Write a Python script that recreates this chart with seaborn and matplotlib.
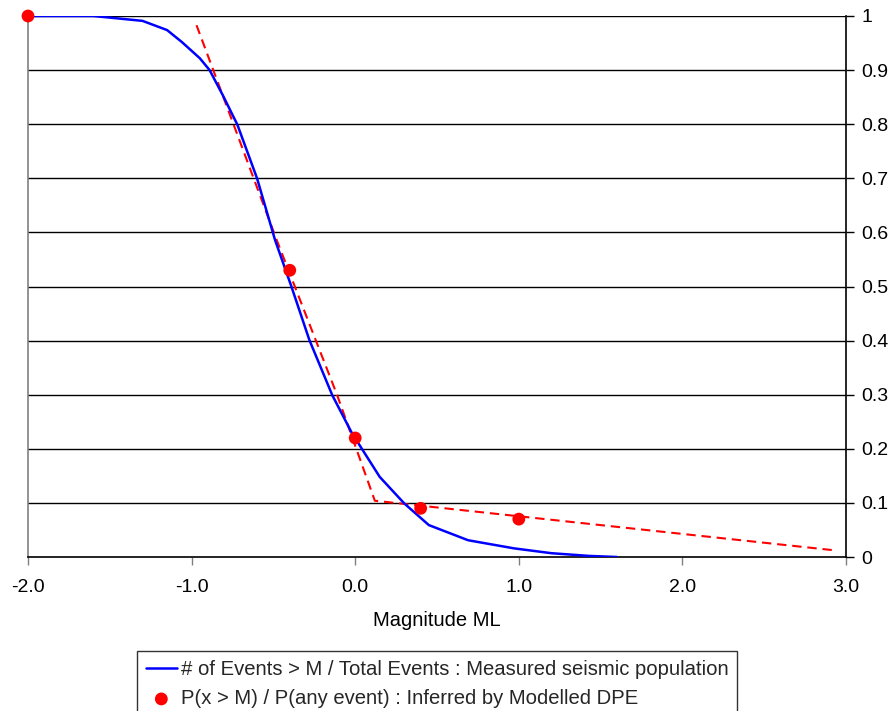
import numpy as np
import pandas as pd
import seaborn as sns
import matplotlib.pyplot as plt

# measured population curve (# events > M / total events)
mag_measured = [-2.0, -1.6, -1.3, -1.15, -1.06, -0.95, -0.89, -0.81, -0.72, -0.60, -0.49, -0.39,
                -0.28, -0.14, -0.02, 0.15, 0.30, 0.45, 0.69, 0.97, 1.20, 1.43, 1.60]
frac_measured = [1.0, 1.0, 0.991, 0.974, 0.952, 0.922, 0.900, 0.854, 0.799, 0.700, 0.586, 0.500,
                 0.401, 0.299, 0.229, 0.148, 0.099, 0.059, 0.031, 0.016, 0.007, 0.002, 0.0]

# modelled DPE points
mag_model = [-2.0, -0.4, 0.0, 0.4, 1.0]
prob_model = [1.0, 0.53, 0.22, 0.09, 0.07]

# dashed fit line
mag_fit = [-0.97, -0.48, -0.11, 0.12, 2.94]
prob_fit = [0.983, 0.586, 0.299, 0.104, 0.012]

x_ticks = [-2.0, -1.0, 0.0, 1.0, 2.0, 3.0]
y_ticks = [0, 0.1, 0.2, 0.3, 0.4, 0.5, 0.6, 0.7, 0.8, 0.9, 1]

label_measured = "# of Events > M / Total Events : Measured seismic population"
label_model = "P(x > M) / P(any event) : Inferred by Modelled DPE"

sns.set_theme(style="white")
plt.rcParams['font.family'] = ['Liberation Sans', 'DejaVu Sans']

df_measured = pd.DataFrame({"mag": mag_measured, "frac": frac_measured})
df_model = pd.DataFrame({"mag": mag_model, "prob": prob_model})
df_fit = pd.DataFrame({"mag": mag_fit, "prob": prob_fit})

fig = plt.figure(figsize=(8.95, 7.11), dpi=100)
ax = fig.add_axes([28 / 895, 1 - 557 / 711, (846 - 28) / 895, (557 - 16) / 711])

for y in y_ticks[1:]:
    ax.axhline(y, color='black', lw=1.0, zorder=1)

sns.lineplot(data=df_fit, x="mag", y="prob", ax=ax, color='red', lw=1.5,
             linestyle=(0, (4.5, 2.8)), zorder=2, legend=False)
sns.lineplot(data=df_measured, x="mag", y="frac", ax=ax, color='#0000ff', lw=1.8,
             zorder=3, label=label_measured)
sns.scatterplot(data=df_model, x="mag", y="prob", ax=ax, color='red', s=85,
                edgecolor='none', zorder=4, clip_on=False, label=label_model)

ax.set_xlim(-2.0, 3.0)
ax.set_ylim(0, 1)
ax.set_xticks(x_ticks)
ax.set_xticklabels([f"{v:.1f}" for v in x_ticks])
ax.set_yticks(y_ticks)
ax.set_yticklabels([f"{v:g}" for v in y_ticks])
ax.yaxis.tick_right()
ax.set_ylabel("")
ax.set_xlabel("Magnitude ML", fontsize=14.5, labelpad=11, color='black')

ax.tick_params(axis='x', direction='out', length=6, width=1, color='#808080',
               labelsize=14, pad=10, labelcolor='black', bottom=True)
ax.tick_params(axis='y', direction='out', length=6, width=1, color='black',
               labelsize=14, pad=5, labelcolor='black', right=True, left=False)

for side in ['left', 'right', 'bottom']:
    ax.spines[side].set_visible(True)
    ax.spines[side].set_linewidth(1.2)
ax.spines['top'].set_visible(False)
ax.spines['left'].set_color('#808080')
ax.spines['right'].set_color('black')
ax.spines['bottom'].set_color('black')

# legend sits below the axes, partly cut off by the figure edge
ax.legend_.remove()
handles, labels = ax.get_legend_handles_labels()
leg = fig.legend(handles, labels, loc='upper left', bbox_to_anchor=(137 / 895, 1 - 651 / 711),
                 fontsize=14.6, frameon=True, fancybox=False, edgecolor='black',
                 handlelength=1.5, handletextpad=0.2, borderpad=0.45, labelspacing=0.5,
                 borderaxespad=0)
leg.get_frame().set_linewidth(1.0)

fig.savefig("out.png", dpi=100)
